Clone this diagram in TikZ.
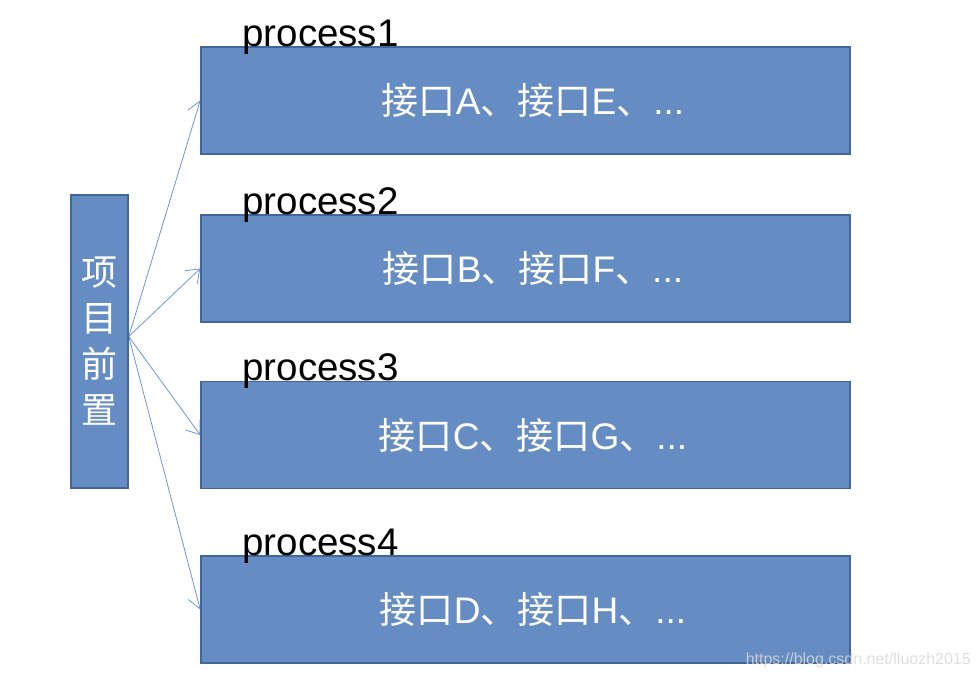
\documentclass[tikz,border=0pt]{standalone}
\usepackage{fontspec}
\setmainfont{Liberation Sans}
\newfontfamily\cjk{Noto Sans CJK SC}
\usetikzlibrary{arrows.meta,positioning,backgrounds}
\definecolor{boxfill}{HTML}{658CC3}
\definecolor{boxline}{HTML}{41679A}
\definecolor{arrline}{HTML}{6E96CE}
\newcommand{\jk}[1]{{\cjk #1}}
\tikzset{
  procbox/.style={draw=boxline, line width=1.5pt, fill=boxfill, minimum width=649pt, minimum height=107pt, inner sep=0pt, text=white, font=\fontsize{37}{40}\selectfont},
  headbox/.style={draw=boxline, line width=1.5pt, fill=boxfill, minimum width=57pt, minimum height=293pt, inner sep=0pt, text=white, align=center, font=\cjk\fontsize{36}{46}\selectfont},
  proclabel/.style={anchor=base west, inner sep=0pt, font=\fontsize{38.5}{40}\selectfont},
  fanarrow/.style={draw=arrline, line width=0.8pt, -{Straight Barb[length=12pt,width=18pt]}}
}

\begin{document}
\begin{tikzpicture}[x=1pt,y=-1pt]
			%%%%% START %%%%%
			\useasboundingbox (0,0) rectangle (979,677);
			
			\node[headbox] (head) at (99.5, 341.5) {项\\目\\前\\置};
			
			\node[procbox] (p1) at (525.5, 100.5) {\hspace*{15pt}\jk{接口}A\jk{、接口}E\jk{、}...};
			\node[procbox] (p2) at (525.5, 268.5) {\hspace*{15pt}\jk{接口}B\jk{、接口}F\jk{、}...};
			\node[procbox] (p3) at (525.5, 435) {\hspace*{15pt}\jk{接口}C\jk{、接口}G\jk{、}...};
			\node[procbox] (p4) at (525.5, 609.5) {\hspace*{15pt}\jk{接口}D\jk{、接口}H\jk{、}...};
			
			\node[proclabel] (l1) at ([xshift=42pt]p1.north west) {process1};
			\node[proclabel] (l2) at ([xshift=42pt]p2.north west) {process2};
			\node[proclabel] (l3) at ([xshift=42pt]p3.north west) {process3};
			\node[proclabel] (l4) at ([xshift=42pt]p4.north west) {process4};
			
			% arrows go behind the boxes
			\begin{scope}[on background layer]
			\coordinate (hub) at ([yshift=5pt]head.east);
			\foreach \t in {p1,p2,p3,p4}
				\draw[fanarrow] (hub) -- (\t.west);
			\end{scope}
			
			\node[anchor=base east, inner sep=0pt, text=gray!30, opacity=0.85, font=\fontsize{16}{18}\selectfont] (mark) at (971, 664) {https://blog.csdn.net/lluozh2015};
			%%%%% END %%%%%
		\end{tikzpicture}
\end{document}
